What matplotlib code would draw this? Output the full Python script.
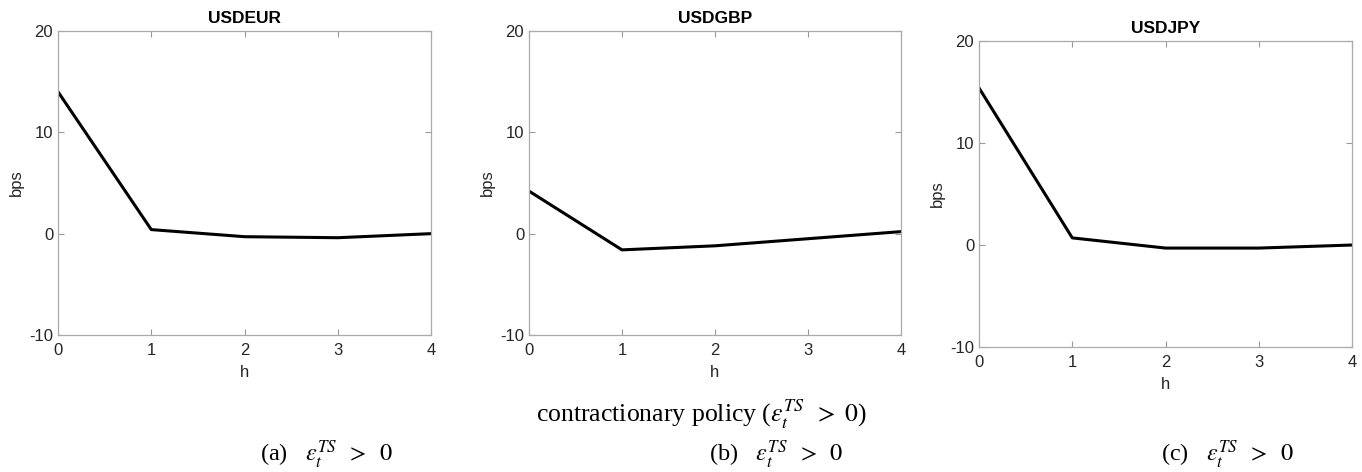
import matplotlib.pyplot as plt

# impulse responses (bps) over horizons h = 0..4
h = [0, 1, 2, 3, 4]
usdeur = [14.0, 0.4, -0.3, -0.4, 0.0]
usdgbp = [4.2, -1.6, -1.2, -0.5, 0.2]
usdjpy = [15.4, 0.7, -0.3, -0.3, 0.0]
titles = ["USDEUR", "USDGBP", "USDJPY"]
captions = ["(a)", "(b)", "(c)"]

plt.rcParams["font.family"] = ["Liberation Sans", "DejaVu Sans"]
plt.rcParams["mathtext.fontset"] = "stix"
plt.rcParams["axes.unicode_minus"] = False

fig = plt.figure(figsize=(13.62, 4.72), dpi=100)

# panel positions [left, bottom, width, height]
boxes = [
    [0.0426, 0.2903, 0.2739, 0.644],
    [0.3884, 0.2903, 0.2731, 0.644],
    [0.7188, 0.2648, 0.2739, 0.6483],
]

for box, series, title in zip(boxes, [usdeur, usdgbp, usdjpy], titles):
    ax = fig.add_axes(box)
    ax.plot(h, series, color="black", linewidth=2.2)
    ax.set_xlim(0, 4)
    ax.set_ylim(-10, 20)
    ax.set_xticks(h)
    ax.set_yticks([-10, 0, 10, 20])
    ax.tick_params(direction="in", top=True, right=True, length=4,
                   color="#999999", labelsize=12, labelcolor="#262626", width=0.8)
    ax.tick_params(axis="x", pad=6)
    for s in ax.spines.values():
        s.set_color("#aaaaaa")
        s.set_linewidth(0.9)
    ax.set_title(title, fontsize=12.5, fontweight="bold", pad=6)
    ax.set_xlabel("h", fontsize=12, color="#262626", labelpad=5)
    ax.set_ylabel("bps", fontsize=12, color="#262626", labelpad=4)

serif = ["Liberation Serif", "DejaVu Serif"]
fig.text(0.515, 0.122, r"contractionary policy ($\varepsilon_t^{TS}\;\;>\;0$)",
         ha="center", va="center", fontsize=18.5, family=serif)

cap_x = [0.240, 0.570, 0.901]
for x, c in zip(cap_x, captions):
    fig.text(x, 0.036, c + r"   $\varepsilon_t^{TS}\;\;>\;\;0$",
             ha="center", va="center", fontsize=17.5, family=serif)

fig.savefig("out.png", dpi=100)
